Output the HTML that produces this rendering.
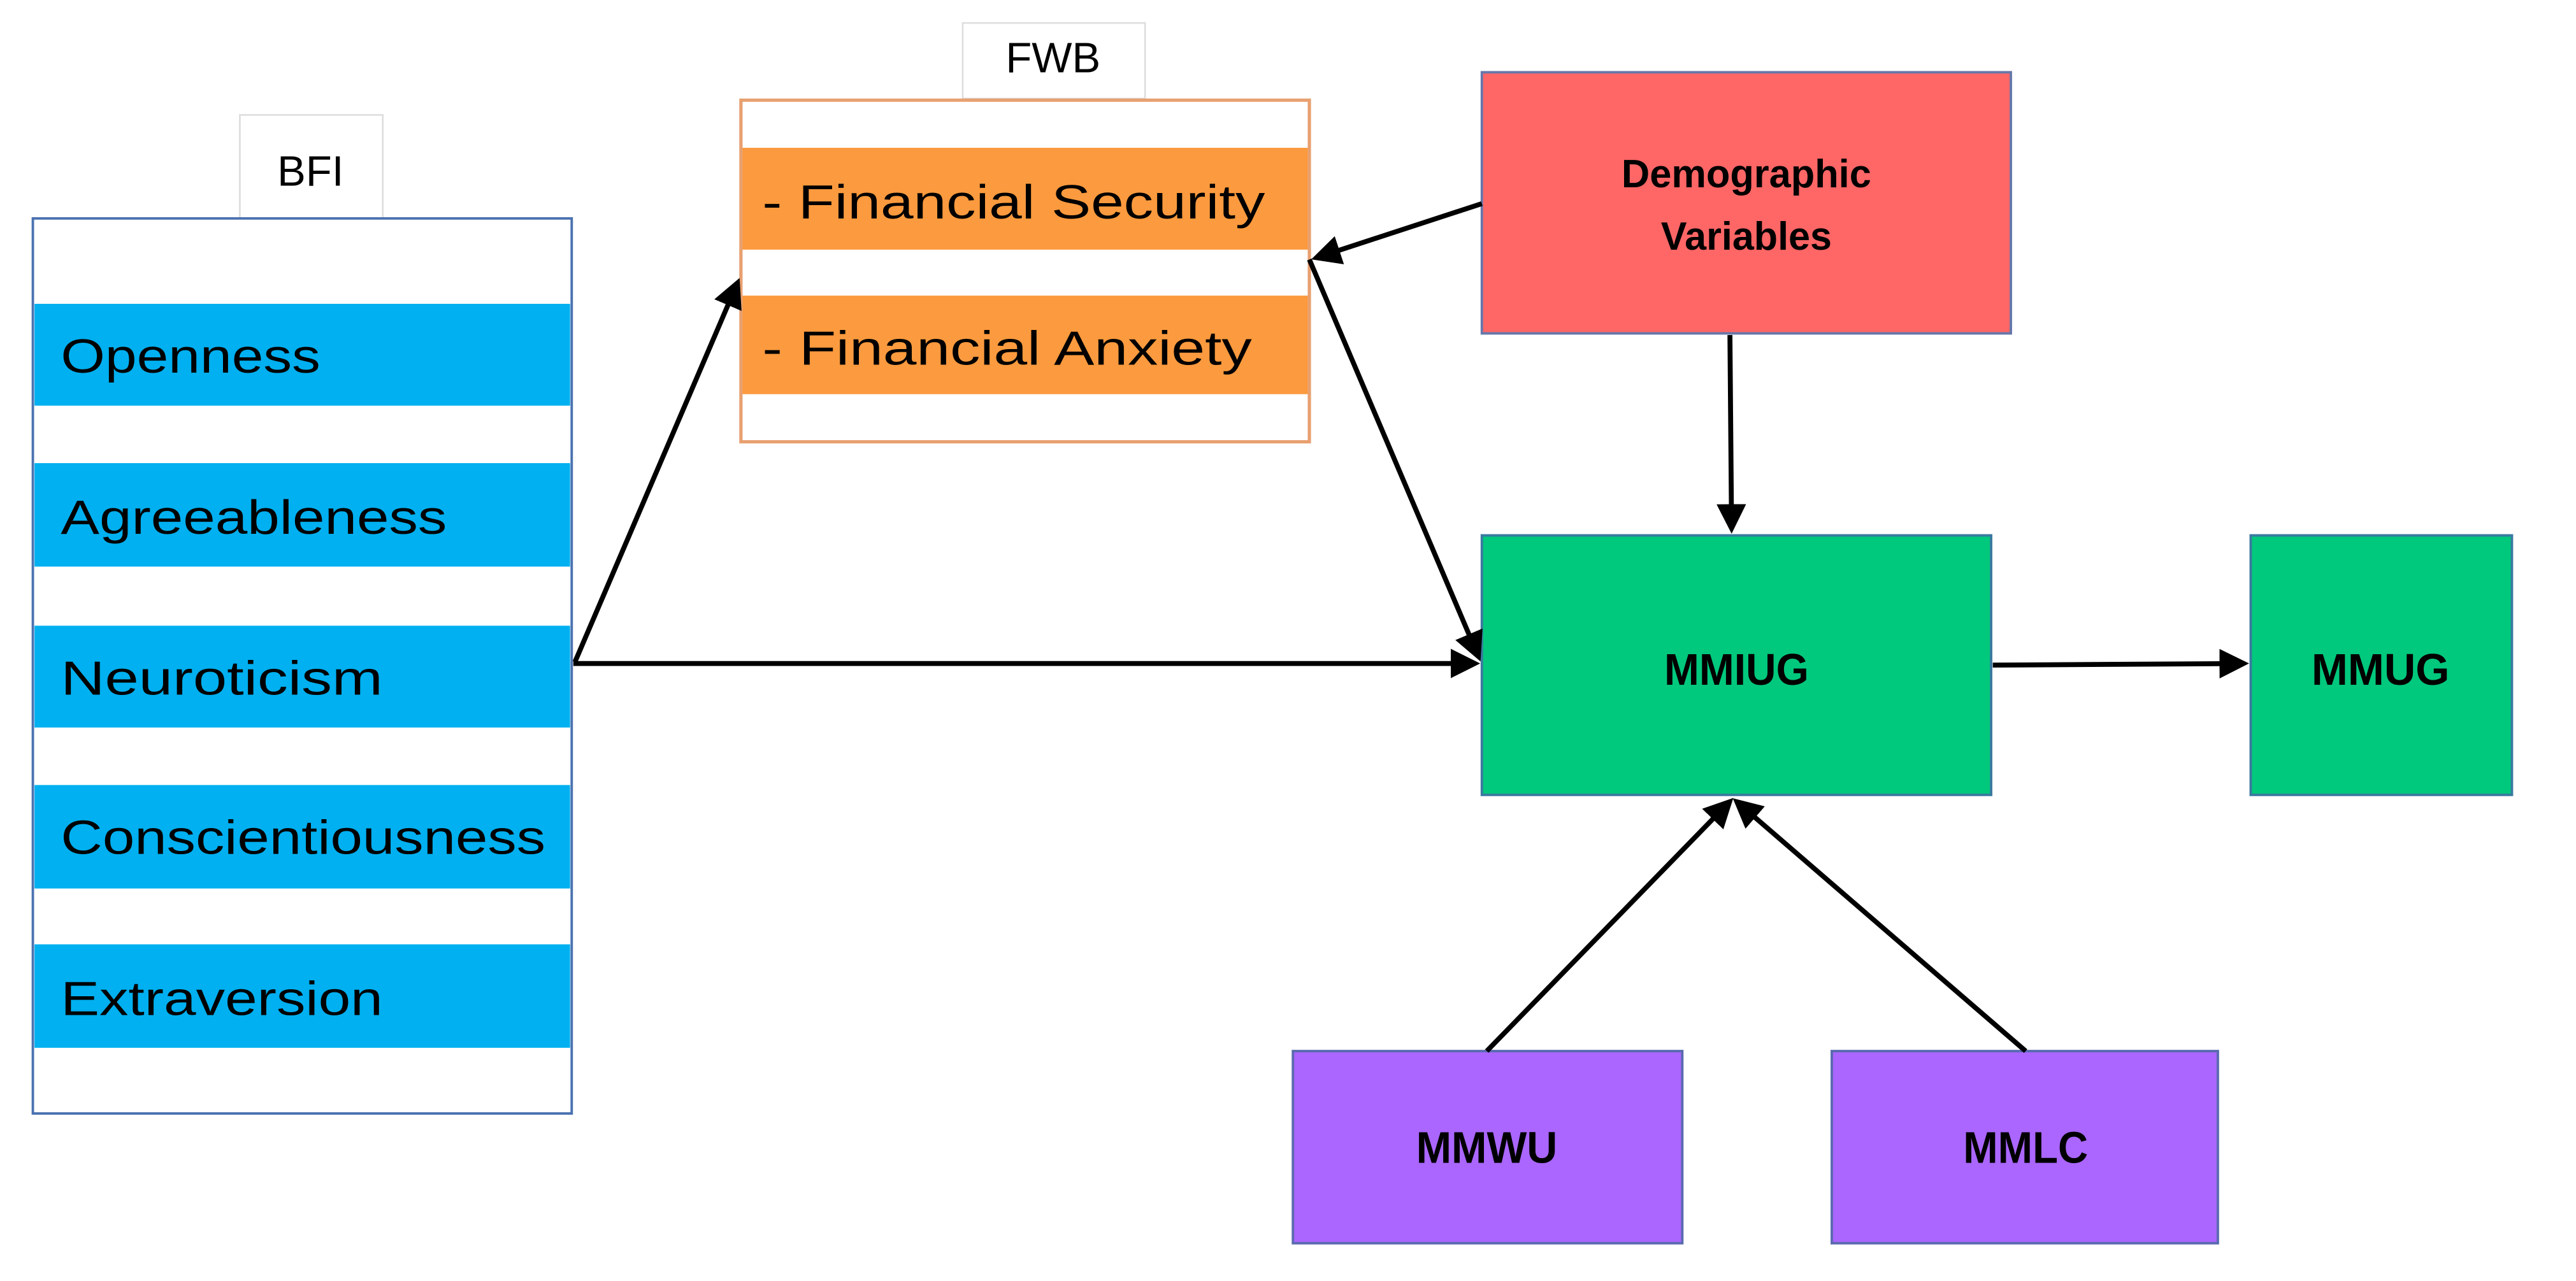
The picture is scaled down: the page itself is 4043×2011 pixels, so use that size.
<!DOCTYPE html>
<html><head><meta charset="utf-8"><style>html,body{margin:0;padding:0;background:#fff}svg{display:block}</style></head>
<body>
<svg width="4043" height="2011" viewBox="0 0 1568 780" preserveAspectRatio="none" xmlns="http://www.w3.org/2000/svg" font-family="Liberation Sans, sans-serif">
<defs>
<marker id="a" markerWidth="6" markerHeight="6" refX="5" refY="3" orient="auto" markerUnits="strokeWidth">
<path d="M0,0 L6,3 L0,6 Z" fill="#000"/></marker>
</defs>
<rect width="1568" height="780" fill="#fff"/>
<!-- BFI -->
<rect x="146" y="70" width="87" height="63" fill="#fff" stroke="#ddd" stroke-width="1"/>
<text x="189" y="113" font-size="26" text-anchor="middle">BFI</text>
<rect x="20" y="133" width="328" height="545" fill="#fff" stroke="#4a72b0" stroke-width="1.5"/>
<g fill="#00b0f0">
<rect x="21" y="185" width="326" height="62"/>
<rect x="21" y="282" width="326" height="63"/>
<rect x="21" y="381" width="326" height="62"/>
<rect x="21" y="478" width="326" height="63"/>
<rect x="21" y="575" width="326" height="63"/>
</g>
<g font-size="29" fill="#000">
<text x="37" y="227" textLength="158" lengthAdjust="spacingAndGlyphs">Openness</text>
<text x="37" y="325" textLength="235" lengthAdjust="spacingAndGlyphs">Agreeableness</text>
<text x="37" y="423" textLength="196" lengthAdjust="spacingAndGlyphs">Neuroticism</text>
<text x="37" y="520" textLength="295" lengthAdjust="spacingAndGlyphs">Conscientiousness</text>
<text x="37" y="618" textLength="196" lengthAdjust="spacingAndGlyphs">Extraversion</text>
</g>
<!-- FWB -->
<rect x="586" y="14" width="111" height="46" fill="#fff" stroke="#ddd" stroke-width="1"/>
<text x="641" y="44" font-size="26" text-anchor="middle">FWB</text>
<rect x="451" y="61" width="346" height="208" fill="#fff" stroke="#e8a070" stroke-width="2"/>
<rect x="452" y="90" width="344" height="62" fill="#fb9a3e"/>
<rect x="452" y="180" width="344" height="60" fill="#fb9a3e"/>
<text x="464" y="133" font-size="29" textLength="306" lengthAdjust="spacingAndGlyphs">- Financial Security</text>
<text x="464" y="222" font-size="29" textLength="298" lengthAdjust="spacingAndGlyphs">- Financial Anxiety</text>
<!-- Demographic -->
<rect x="902" y="44" width="322" height="159" fill="#ff6666" stroke="#6677aa" stroke-width="1.5"/>
<text x="1063" y="114" font-size="24" font-weight="bold" text-anchor="middle" textLength="152" lengthAdjust="spacingAndGlyphs">Demographic</text>
<text x="1063" y="152" font-size="24" font-weight="bold" text-anchor="middle" textLength="104" lengthAdjust="spacingAndGlyphs">Variables</text>
<!-- MMIUG -->
<rect x="902" y="326" width="310" height="158" fill="#00c87c" stroke="#3a7aa0" stroke-width="1.5"/>
<text x="1057" y="417" font-size="27" font-weight="bold" text-anchor="middle" textLength="88" lengthAdjust="spacingAndGlyphs">MMIUG</text>
<rect x="1370" y="326" width="159" height="158" fill="#00c87c" stroke="#3a7aa0" stroke-width="1.5"/>
<text x="1449" y="417" font-size="27" font-weight="bold" text-anchor="middle" textLength="84" lengthAdjust="spacingAndGlyphs">MMUG</text>
<!-- purple -->
<rect x="787" y="640" width="237" height="117" fill="#aa66ff" stroke="#5a6ab0" stroke-width="1.5"/>
<text x="905" y="708" font-size="27" font-weight="bold" text-anchor="middle" textLength="86" lengthAdjust="spacingAndGlyphs">MMWU</text>
<rect x="1115" y="640" width="235" height="117" fill="#aa66ff" stroke="#5a6ab0" stroke-width="1.5"/>
<text x="1233" y="708" font-size="27" font-weight="bold" text-anchor="middle" textLength="76" lengthAdjust="spacingAndGlyphs">MMLC</text>
<!-- arrows -->
<g stroke="#000" stroke-width="3" fill="none">
<line x1="349" y1="404" x2="898" y2="404" marker-end="url(#a)"/>
<line x1="350" y1="403" x2="449" y2="172" marker-end="url(#a)"/>
<line x1="902" y1="124" x2="801" y2="157" marker-end="url(#a)"/>
<line x1="797" y1="158" x2="900" y2="400" marker-end="url(#a)"/>
<line x1="1053" y1="204" x2="1054" y2="322" marker-end="url(#a)"/>
<line x1="1213" y1="405" x2="1366" y2="404" marker-end="url(#a)"/>
<line x1="905" y1="640" x2="1053" y2="488" marker-end="url(#a)"/>
<line x1="1233" y1="640" x2="1057" y2="488" marker-end="url(#a)"/>
</g>
</svg>
</body></html>
